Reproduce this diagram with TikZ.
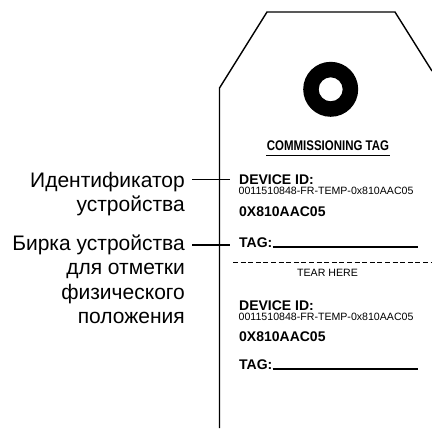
\documentclass[tikz,border=0pt]{standalone}
\usepackage{fontspec}
\setmainfont{Liberation Sans}
\newfontfamily\condf[FakeStretch=0.82]{Liberation Sans}
\begin{document}
\begin{tikzpicture}[x=1pt,y=-1pt,
  outline/.style={line width=1.4pt},
  leader/.style={line width=1.3pt},
  label/.style={inner sep=0pt,align=right,anchor=base east,font=\fontsize{21}{24.3}\selectfont},
  boldtxt/.style={inner sep=0pt,anchor=base west,font=\fontsize{14}{14}\selectfont\bfseries},
  smalltxt/.style={inner sep=0pt,anchor=base west,font=\fontsize{10.6}{10.6}\selectfont},
  rulel/.style={line width=1.2pt}]
\useasboundingbox (0,0) rectangle (432,432);
% tag outline
\coordinate (b) at (219.5,428);
\coordinate (l) at (219.5,88);
\coordinate (tl) at (267,12);
\coordinate (tr) at (395,12);
\coordinate (r) at (432,71);
\draw[outline,line join=miter] (b) -- (l) -- (tl) -- (tr) -- (r);
% hole
\fill[black,even odd rule] (330.7,89.3) circle (27.5) (330.7,89.3) circle (12);
% title
\node[inner sep=0pt,anchor=base,font=\fontsize{14}{14}\condf\bfseries] (title) at (328,150) {COMMISSIONING TAG};
\coordinate (u1) at (266,155.5);
\coordinate (u2) at (390,155.5);
\draw[line width=1.4pt] (u1) -- (u2);
% block 1
\node[boldtxt] (dev1) at (239,184) {DEVICE ID:};
\node[smalltxt] (id1) at (238.5,194) {0011510848-FR-TEMP-0x810AAC05};
\node[boldtxt] (hex1) at (239,216) {0X810AAC05};
\node[boldtxt] (tag1) at (239,247) {TAG:};
\coordinate (t1e) at (418,247);
\draw[rulel] (tag1.base east) -- (t1e);
% tear line
\coordinate (d1) at (233,262);
\coordinate (d2) at (432,262);
\draw[line width=1pt,dash pattern=on 5pt off 2.6pt] (d1) -- (d2);
\node[smalltxt,anchor=base] (tear) at (327.5,276) {TEAR HERE};
% block 2
\node[boldtxt] (dev2) at (239,310.5) {DEVICE ID:};
\node[smalltxt] (id2) at (238.5,320.5) {0011510848-FR-TEMP-0x810AAC05};
\node[boldtxt] (hex2) at (239,341) {0X810AAC05};
\node[boldtxt] (tag2) at (239,369) {TAG:};
\coordinate (t2e) at (418,369);
\draw[rulel] (tag2.base east) -- (t2e);
% left labels (base east = baseline of the last line)
\node[label] (lab1) at (185,211.3) {Идентификатор\\устройства};
\node[label] (lab2) at (185,323.4) {Бирка устройства\\для отметки\\физического\\положения};
\coordinate (e1) at (230,179.5);
\coordinate (e2) at (230,245);
\draw[leader] ([xshift=7pt]lab1.base east |- e1) -- (e1);
\draw[leader] ([xshift=7pt]lab2.base east |- e2) -- (e2);
\end{tikzpicture}
\end{document}
